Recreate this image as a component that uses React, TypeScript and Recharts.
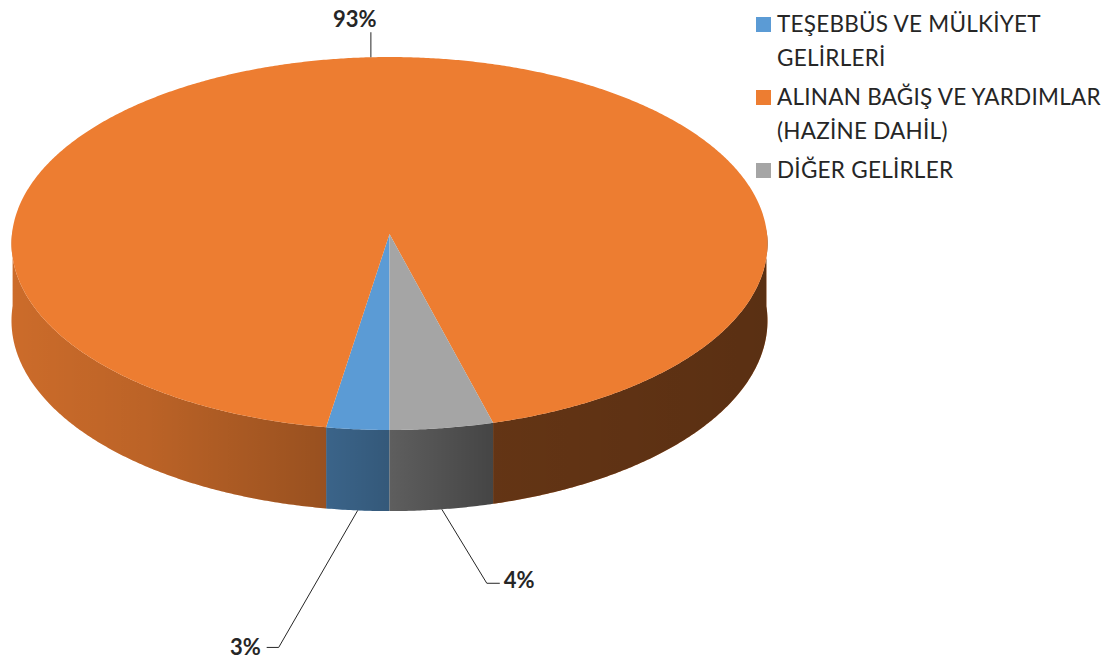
import React from 'react';
import { PieChart, Pie, Cell, Legend } from 'recharts';

// ---- data ----
const categories = [
  'TEŞEBBÜS VE MÜLKİYET GELİRLERİ',
  'ALINAN BAĞIŞ VE YARDIMLAR (HAZİNE DAHİL)',
  'DİĞER GELİRLER',
];
const shares = [2.55, 93.25, 4.2];
const colors = ['#5B9BD5', '#ED7D31', '#A5A5A5'];

const data = categories.map((name, i) => ({ name, value: shares[i] }));

// ---- 3D look (style constants) ----
const PERSPECTIVE = 0.0509;
const RY_RATIO = 186 / 377.5;
const DEPTH = 77;
const LABEL_LAYOUT = [
  { dx: -79, dy: 137, tick: -12, tx: -18, ty: 8, anchor: 'end' },
  { dx: 0, dy: -25, tick: 0, tx: -16, ty: -5, anchor: 'middle' },
  { dx: 45, dy: 74, tick: 13, tx: 17, ty: 5, anchor: 'start' },
];

function proj(cx: number, cy: number, r: number, deg: number) {
  const a = (deg * Math.PI) / 180;
  const u = Math.cos(a);
  const v = -Math.sin(a);
  const s = 1 / (1 - PERSPECTIVE * v);
  return { x: cx + r * u * s, y: cy + r * RY_RATIO * v * s, v, s };
}

function Slice3D(props: any) {
  const { cx, cy, outerRadius, startAngle, endAngle, fill, name } = props;
  const n = Math.max(2, Math.ceil(Math.abs(endAngle - startAngle) / 0.4));
  const pts = [] as ReturnType<typeof proj>[];
  for (let i = 0; i <= n; i++) {
    const a = startAngle + ((endAngle - startAngle) * i) / n;
    pts.push(proj(cx, cy, outerRadius, a));
  }
  const topPath =
    `M${cx},${cy} ` + pts.map((p) => `L${p.x.toFixed(2)},${p.y.toFixed(2)}`).join(' ') + ' Z';
  const runs: (typeof pts)[] = [];
  let cur: typeof pts = [];
  for (const p of pts) {
    if (p.v >= -0.03) cur.push(p);
    else {
      if (cur.length > 1) runs.push(cur);
      cur = [];
    }
  }
  if (cur.length > 1) runs.push(cur);
  const sidePaths = runs.map((run) => {
    const t = run.map((p, i) => `${i ? 'L' : 'M'}${p.x.toFixed(2)},${p.y.toFixed(2)}`).join(' ');
    const b = run
      .slice()
      .reverse()
      .map((p) => `L${p.x.toFixed(2)},${(p.y + DEPTH * p.s).toFixed(2)}`)
      .join(' ');
    return `${t} ${b} Z`;
  });
  const gid = 'shade-' + categories.indexOf(name);
  return (
    <g>
      <defs>
        <linearGradient id={gid} gradientUnits="userSpaceOnUse" x1={cx - outerRadius} y1={0} x2={cx + outerRadius} y2={0}>
          <stop offset="0" stopColor="#000" stopOpacity={0.14} />
          <stop offset="0.18" stopColor="#000" stopOpacity={0.21} />
          <stop offset="0.42" stopColor="#000" stopOpacity={0.36} />
          <stop offset="0.5" stopColor="#000" stopOpacity={0.43} />
          <stop offset="0.634" stopColor="#000" stopOpacity={0.58} />
          <stop offset="1" stopColor="#000" stopOpacity={0.62} />
        </linearGradient>
      </defs>
      {sidePaths.map((d, i) => (
        <g key={i}>
          <path d={d} fill={fill} stroke="none" />
          <path d={d} fill={`url(#${gid})`} stroke="none" />
        </g>
      ))}
      <path d={topPath} fill={fill} stroke="none" />
    </g>
  );
}

function renderLabel(props: any) {
  const { cx, cy, outerRadius, midAngle, percent, index } = props;
  const p = proj(cx, cy, outerRadius, midAngle);
  const front = p.v > 0;
  const sx = p.x;
  const sy = p.y + (front ? DEPTH * p.s : 0);
  const L = LABEL_LAYOUT[index];
  const ex = sx + L.dx;
  const ey = sy + L.dy;
  const pts = `${sx},${sy} ${ex},${ey} ${ex + L.tick},${ey}`;
  return (
    <g>
      <polyline points={pts} fill="none" stroke="#262626" strokeWidth={1} />
      <text
        x={ex + L.tx}
        y={ey + L.ty}
        textAnchor={L.anchor as any}
        fontFamily="Lato, 'Open Sans', sans-serif"
        fontWeight={700}
        fontSize={22}
        fill="#262626"
      >
        {`${Math.round(percent * 100)}%`}
      </text>
    </g>
  );
}

function renderLegend(props: any) {
  const payload = [...(props.payload || [])].sort(
    (a: any, b: any) => categories.indexOf(a.value) - categories.indexOf(b.value)
  );
  return (
    <div
      style={{
        fontFamily: "Lato, 'Open Sans', sans-serif",
        fontSize: 22.5,
        letterSpacing: 0.25,
        color: '#262626',
      }}
    >
      {payload.map((e: any, i: number) => (
        <div
          key={i}
          style={{ display: 'flex', alignItems: 'flex-start', marginBottom: 5, lineHeight: '34px' }}
        >
          <span
            style={{
              width: 15,
              height: 15,
              background: e.color,
              marginTop: 10,
              marginRight: 6,
              flex: 'none',
              display: 'inline-block',
            }}
          />
          <span>{e.value}</span>
        </div>
      ))}
    </div>
  );
}

export default function App() {
  return (
    <div style={{ position: 'absolute', left: 0, top: 0, width: 1108, height: 664, background: '#fff' }}>
      <PieChart width={1108} height={664} margin={{ top: 0, right: 0, bottom: 0, left: 0 }}>
        <Pie
          data={data}
          dataKey="value"
          nameKey="name"
          cx={389.5}
          cy={234}
          outerRadius={377.5}
          startAngle={-90}
          endAngle={-450}
          stroke="none"
          isAnimationActive={false}
          shape={Slice3D}
          label={renderLabel}
          labelLine={false}
        >
          {data.map((d, i) => (
            <Cell key={d.name} fill={colors[i]} />
          ))}
        </Pie>
        <Legend
          layout="vertical"
          align="right"
          verticalAlign="top"
          content={renderLegend}
          wrapperStyle={{ left: 756, top: 7, width: 352 }}
        />
      </PieChart>
    </div>
  );
}
